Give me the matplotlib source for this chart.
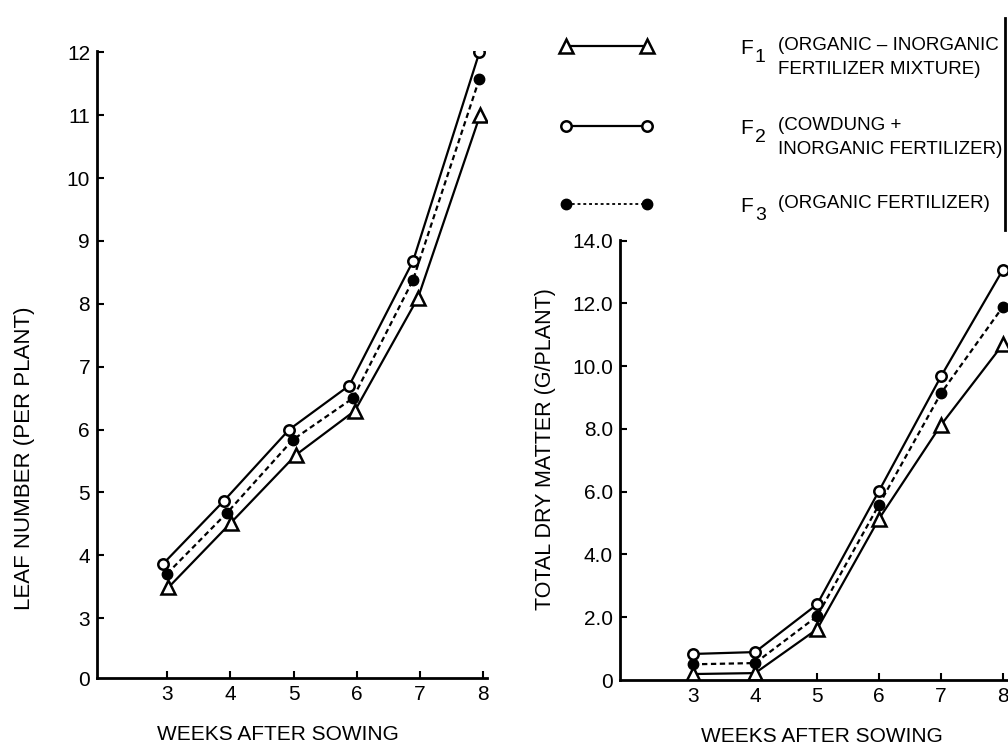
import matplotlib
matplotlib.use("Agg")
import matplotlib.pyplot as plt
from matplotlib.lines import Line2D

plt.rcParams['font.family'] = ['Liberation Sans', 'DejaVu Sans']

weeks = [3, 4, 5, 6, 7, 8]

# leaf number (x slightly off the ticks, as drawn)
leaf_x_f1 = [3.02, 4.01, 5.04, 5.97, 6.97, 7.95]
leaf_x_f2 = [2.94, 3.90, 4.93, 5.88, 6.89, 7.94]
leaf_x_f3 = [3.00, 3.95, 4.99, 5.94, 6.89, 7.94]
leaf_f1 = [3.49, 4.52, 5.60, 6.30, 8.10, 11.00]
leaf_f2 = [3.87, 4.87, 6.00, 6.70, 8.68, 12.00]
leaf_f3 = [3.71, 4.68, 5.84, 6.50, 8.38, 11.58]
leaf_ticks = [3, 4, 5, 6, 7, 8, 9, 10, 11, 12]

# total dry matter, right panel
dry_f1 = [0.19, 0.22, 1.62, 5.14, 8.13, 10.70]
dry_f2 = [0.83, 0.89, 2.41, 6.03, 9.68, 13.08]
dry_f3 = [0.50, 0.54, 2.03, 5.59, 9.14, 11.90]
dry_ticks = [0, 2, 4, 6, 8, 10, 12, 14]

legend_names = ["1", "2", "3"]
legend_text = [["(ORGANIC \u2013 INORGANIC", "FERTILIZER MIXTURE)"],
               ["(COWDUNG +", "INORGANIC FERTILIZER)"],
               ["(ORGANIC FERTILIZER)"]]

W, H = 1008, 745
fig = plt.figure(figsize=(W / 100, H / 100), dpi=100)

sty_f1 = dict(color='black', lw=1.6, marker='^', ms=9.5, mfc='white', mec='black', mew=1.8)
sty_f2 = dict(color='black', lw=1.6, marker='o', ms=7.5, mfc='white', mec='black', mew=1.8)
sty_f3 = dict(color='black', lw=1.6, marker='o', ms=7.5, mfc='black', mec='black',
              ls=(0, (2.4, 1.6)))


def style_axes(ax):
    for s in ['top', 'right']:
        ax.spines[s].set_visible(False)
    for s in ['left', 'bottom']:
        ax.spines[s].set_linewidth(2.0)
    ax.tick_params(direction='in', length=5, width=1.5, labelsize=15, pad=5)


# left panel
ax1 = fig.add_axes([97 / W, 1 - 678 / H, 390 / W, (678 - 51) / H])
ax1.plot(leaf_x_f1, leaf_f1, **sty_f1)
ax1.plot(leaf_x_f3, leaf_f3, **sty_f3)
ax1.plot(leaf_x_f2, leaf_f2, **sty_f2)
ax1.set_xlim(1.89, 8.06)
ax1.set_ylim(2.05, 12.02)
ax1.set_xticks(weeks)
ax1.set_yticks([2.05] + leaf_ticks)
ax1.set_yticklabels(['0'] + [str(t) for t in leaf_ticks])
style_axes(ax1)
ax1.yaxis.get_major_ticks()[0].tick1line.set_visible(False)

# right panel
ax2 = fig.add_axes([620 / W, 1 - 680 / H, 388 / W, (680 - 240) / H])
ax2.plot(weeks, dry_f1, **sty_f1)
ax2.plot(weeks, dry_f3, **sty_f3)
ax2.plot(weeks, dry_f2, **sty_f2)
ax2.set_xlim(1.82, 8.08)
ax2.set_ylim(0, 14.02)
ax2.set_xticks(weeks)
ax2.set_yticks(dry_ticks)
ax2.set_yticklabels(['0'] + ['%.1f' % t for t in dry_ticks[1:]])
style_axes(ax2)
ax2.yaxis.get_major_ticks()[0].tick1line.set_visible(False)

fig.text(25 / W, 1 - 458 / H, "LEAF NUMBER (PER PLANT)", rotation=90,
         ha='center', va='center', fontsize=16)
fig.text(545 / W, 1 - 449 / H, "TOTAL DRY MATTER (G/PLANT)", rotation=90,
         ha='center', va='center', fontsize=15.5)
fig.text(278 / W, 1 - 734 / H, "WEEKS AFTER SOWING", ha='center', va='center', fontsize=15)
fig.text(822 / W, 1 - 737 / H, "WEEKS AFTER SOWING", ha='center', va='center', fontsize=15)

# legend, drawn in pixel coordinates on a transparent overlay
lax = fig.add_axes([0, 0, 1, 1])
lax.set_xlim(0, W)
lax.set_ylim(H, 0)
lax.axis('off')
leg_y = [46, 126, 204]
leg_sty = [sty_f1, sty_f2, dict(sty_f3, lw=1.3, ls=(0, (1.6, 1.6)))]
for y, sty, name, lines in zip(leg_y, leg_sty, legend_names, legend_text):
    lax.plot([566, 647], [y, y], **sty)
    lax.text(740, y + 2, "F", fontsize=15, ha='left', va='center')
    lax.text(755, y + 12, name, fontsize=14, ha='left', va='center')
    for k, line in enumerate(lines):
        lax.text(778, y - 1 + k * 24, line, fontsize=13.5, ha='left', va='center')
lax.add_line(Line2D([1005, 1005], [18, 230], color='black', lw=2))

fig.savefig("out.png", dpi=100)
